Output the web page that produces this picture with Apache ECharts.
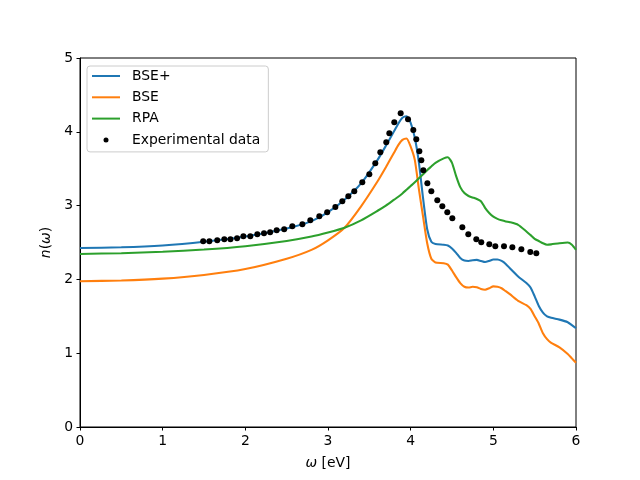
<!DOCTYPE html>
<html>
<head>
<meta charset="utf-8">
<script src="https://cdn.jsdelivr.net/npm/echarts@6/dist/echarts.min.js"></script>
<style>
  html, body { margin: 0; padding: 0; background: #fff; }
  #chart { width: 640px; height: 480px; }
</style>
</head>
<body>
<div id="chart"></div>
<script>
// energy grid (eV)
var omega = [0, 0.5, 1, 1.5, 2, 2.5, 2.8, 3.0, 3.2, 3.4, 3.6, 3.7, 3.8, 3.85, 3.9, 3.95,
  4.0, 4.05, 4.1, 4.15, 4.2, 4.25, 4.3, 4.4, 4.45, 4.5, 4.55, 4.6, 4.65, 4.7, 4.75,
  4.8, 4.85, 4.9, 4.95, 5.0, 5.05, 5.1, 5.15, 5.2, 5.3, 5.4, 5.45, 5.5, 5.55, 5.6,
  5.65, 5.7, 5.8, 5.9, 5.95, 6.0];

var bsePlus = [2.425, 2.435, 2.46, 2.51, 2.58, 2.69, 2.79, 2.91, 3.08, 3.30, 3.62, 3.81, 4.01, 4.11, 4.19, 4.21,
  4.12, 3.92, 3.58, 3.10, 2.68, 2.51, 2.48, 2.47, 2.46, 2.42, 2.36, 2.29, 2.255, 2.25, 2.26,
  2.265, 2.25, 2.235, 2.25, 2.27, 2.27, 2.25, 2.21, 2.15, 2.04, 1.95, 1.89, 1.77, 1.64, 1.55,
  1.50, 1.48, 1.455, 1.42, 1.38, 1.34];

var bse = [1.975, 1.985, 2.01, 2.06, 2.14, 2.28, 2.40, 2.53, 2.70, 2.99, 3.33, 3.52, 3.72, 3.82, 3.89, 3.91,
  3.80, 3.62, 3.22, 2.85, 2.49, 2.28, 2.23, 2.22, 2.20, 2.12, 2.03, 1.95, 1.90, 1.89, 1.90,
  1.895, 1.87, 1.86, 1.88, 1.905, 1.90, 1.88, 1.84, 1.80, 1.71, 1.65, 1.60, 1.50, 1.40, 1.27,
  1.19, 1.14, 1.08, 0.99, 0.93, 0.87];

var rpa = [2.345, 2.355, 2.375, 2.405, 2.45, 2.52, 2.58, 2.635, 2.70, 2.80, 2.93, 3.00, 3.08, 3.12, 3.165, 3.215,
  3.265, 3.315, 3.37, 3.425, 3.48, 3.53, 3.58, 3.64, 3.655, 3.58, 3.40, 3.25, 3.17, 3.13, 3.11,
  3.09, 3.06, 2.97, 2.90, 2.85, 2.82, 2.80, 2.785, 2.775, 2.74, 2.65, 2.60, 2.55, 2.52, 2.49,
  2.47, 2.475, 2.49, 2.50, 2.47, 2.40];

var expOmega = [1.49, 1.565, 1.66, 1.746, 1.82, 1.90, 1.976, 2.06, 2.145, 2.226, 2.30, 2.379, 2.47,
  2.568, 2.69, 2.786, 2.895, 2.99, 3.089, 3.173, 3.246, 3.318, 3.415, 3.50, 3.572, 3.633,
  3.705, 3.742, 3.802, 3.879, 3.968, 4.032, 4.068, 4.105, 4.129, 4.153, 4.202, 4.25, 4.322,
  4.383, 4.443, 4.504, 4.625, 4.697, 4.794, 4.854, 4.951, 5.024, 5.129, 5.23, 5.339, 5.447, 5.52];
var expN = [2.516, 2.516, 2.53, 2.543, 2.543, 2.557, 2.584, 2.584, 2.611, 2.625, 2.638, 2.665, 2.679,
  2.72, 2.747, 2.80, 2.855, 2.909, 2.981, 3.058, 3.126, 3.194, 3.315, 3.424, 3.573, 3.722,
  3.858, 3.98, 4.129, 4.25, 4.169, 4.024, 3.898, 3.735, 3.613, 3.478, 3.302, 3.194, 3.072,
  2.99, 2.909, 2.828, 2.706, 2.611, 2.543, 2.503, 2.476, 2.449, 2.449, 2.435, 2.408, 2.371, 2.353];

var seriesNames = ['BSE+', 'BSE', 'RPA', 'Experimental data'];
var colors = ['#1f77b4', '#ff7f0e', '#2ca02c', '#000000'];
var xTicks = [0, 6, 1];
var yTicks = [0, 5, 1];

function pairs(xs, ys) {
  return xs.map(function (x, i) { return [x, ys[i]]; });
}

var font = 'DejaVu Sans';
var fs = 13.9;
var lineIcon = 'path://M0,0 L28,0 L28,2 L0,2 Z';

function lineSeries(name, ys, color) {
  return {
    name: name,
    type: 'line',
    data: pairs(omega, ys),
    showSymbol: false,
    symbol: 'none',
    smooth: 0.2,
    lineStyle: { color: color, width: 2.08 },
    itemStyle: { color: color },
    animation: false
  };
}

var chart = echarts.init(document.getElementById('chart'));
chart.setOption({
  animation: false,
  backgroundColor: '#fff',
  grid: {
    left: 80, right: 64, top: 58, bottom: 53,
    show: true, borderColor: '#000', borderWidth: 1, backgroundColor: 'transparent'
  },
  legend: {
    orient: 'vertical',
    left: 87, top: 66,
    padding: [2, 8, 4, 5],
    itemGap: 5.3,
    itemWidth: 28,
    itemHeight: 5,
    borderColor: '#cccccc',
    borderWidth: 1,
    borderRadius: 3,
    backgroundColor: 'rgba(255,255,255,0.8)',
    textStyle: { fontFamily: font, fontSize: fs, color: '#000', lineHeight: 16, padding: [0, 0, 0, 7] },
    data: [
      { name: seriesNames[0], icon: lineIcon },
      { name: seriesNames[1], icon: lineIcon },
      { name: seriesNames[2], icon: lineIcon },
      { name: seriesNames[3], icon: 'circle' }
    ]
  },
  xAxis: {
    type: 'value',
    min: xTicks[0], max: xTicks[1], interval: xTicks[2],
    name: '{i|ω} [eV]',
    nameLocation: 'middle',
    nameGap: 29,
    nameTextStyle: {
      fontFamily: font, fontSize: fs, color: '#000',
      rich: { i: { fontFamily: font, fontSize: fs, fontStyle: 'italic', color: '#000' } }
    },
    axisLine: { show: true, lineStyle: { color: '#000', width: 1 } },
    axisTick: { show: true, inside: false, length: 3.5, lineStyle: { color: '#000' } },
    axisLabel: { margin: 7, fontFamily: font, fontSize: fs, color: '#000' },
    splitLine: { show: false }
  },
  yAxis: {
    type: 'value',
    min: yTicks[0], max: yTicks[1], interval: yTicks[2],
    name: '{i|n}({i|ω})',
    nameLocation: 'middle',
    nameRotate: 90,
    nameGap: 25,
    nameTextStyle: {
      fontFamily: font, fontSize: fs, color: '#000',
      rich: { i: { fontFamily: font, fontSize: fs, fontStyle: 'italic', color: '#000' } }
    },
    axisLine: { show: true, lineStyle: { color: '#000', width: 1 } },
    axisTick: { show: true, inside: false, length: 3.5, lineStyle: { color: '#000' } },
    axisLabel: { margin: 7, fontFamily: font, fontSize: fs, color: '#000' },
    splitLine: { show: false }
  },
  series: [
    lineSeries(seriesNames[0], bsePlus, colors[0]),
    lineSeries(seriesNames[1], bse, colors[1]),
    lineSeries(seriesNames[2], rpa, colors[2]),
    {
      name: seriesNames[3],
      type: 'scatter',
      data: pairs(expOmega, expN),
      symbol: 'circle',
      symbolSize: 6,
      itemStyle: { color: colors[3], opacity: 1 },
      z: 5
    }
  ]
});
</script>
</body>
</html>
